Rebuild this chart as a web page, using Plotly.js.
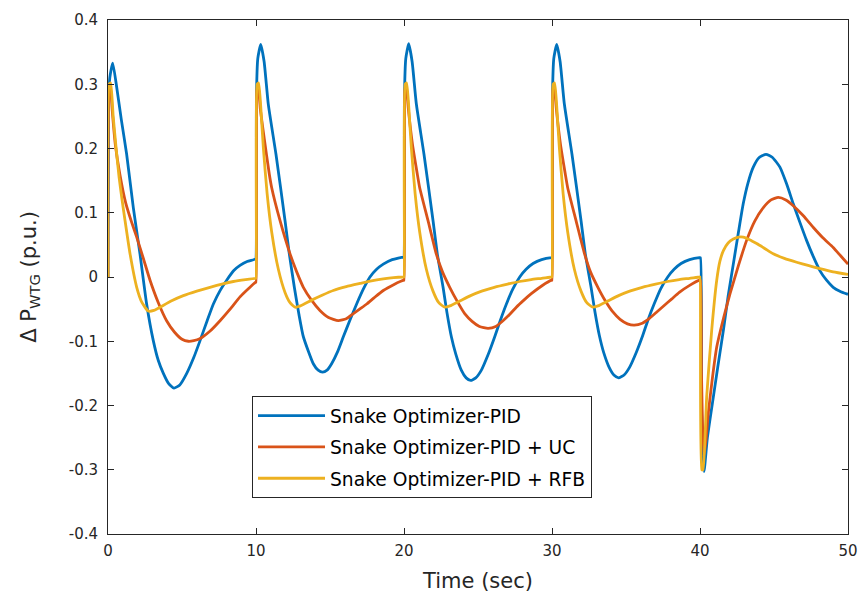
<!DOCTYPE html>
<html>
<head>
<meta charset="utf-8">
<script src="https://cdn.plot.ly/plotly-3.0.1.min.js"></script>
<style>html,body{margin:0;padding:0;background:#fff;}#chart{width:864px;height:596px;}</style>
</head>
<body>
<div id="chart"></div>
<script>
// Snake Optimizer-PID
const tPID = [0,0.03,0.12,0.32,0.59,0.9,1.26,1.71,2.16,2.61,3.06,3.4,3.74,4.1,4.46,4.85,5.32,5.8,6.22,6.7,7.12,7.6,8.02,8.5,8.92,9.4,9.97,
  10.0,10.03,10.12,10.32,10.55,10.83,11.35,11.96,12.25,12.59,12.9,13.2,13.87,14.2,14.5,14.8,15.11,15.5,15.9,16.35,16.8,17.25,17.7,18.15,18.6,19.2,19.97,
  20.0,20.03,20.12,20.32,20.55,20.83,21.35,21.96,22.25,22.64,22.9,23.2,23.5,23.87,24.2,24.5,24.85,25.23,25.7,26.13,26.5,26.92,27.35,27.82,28.25,28.72,29.3,29.97,
  30.0,30.03,30.12,30.32,30.55,30.83,31.35,31.96,32.25,32.64,32.9,33.2,33.5,33.87,34.2,34.5,34.85,35.23,35.7,36.13,36.5,36.92,37.35,37.82,38.25,38.72,39.3,39.97,
  40.03,40.1,40.27,40.5,40.9,41.2,41.58,41.9,42.25,42.6,42.92,43.25,43.6,44.0,44.46,44.9,45.4,45.85,46.3,46.75,47.2,47.65,48.1,48.55,49.0,49.45,50.0];
const vPID = [0,0.25,0.31,0.333,0.295,0.245,0.191,0.108,0.036,-0.042,-0.099,-0.13,-0.150,-0.166,-0.173,-0.168,-0.150,-0.125,-0.099,-0.068,-0.042,-0.020,-0.005,0.010,0.018,0.024,0.028,
  0.029,0.28,0.34,0.362,0.335,0.269,0.191,0.088,0.036,-0.016,-0.058,-0.093,-0.135,-0.145,-0.148,-0.145,-0.135,-0.117,-0.093,-0.067,-0.042,-0.019,0.000,0.012,0.020,0.027,0.031,
  0.030,0.28,0.34,0.363,0.335,0.27,0.191,0.088,0.036,-0.016,-0.055,-0.093,-0.12,-0.145,-0.157,-0.161,-0.157,-0.145,-0.12,-0.093,-0.068,-0.042,-0.019,0.000,0.012,0.021,0.027,0.030,
  0.030,0.28,0.34,0.362,0.335,0.27,0.191,0.088,0.036,-0.016,-0.054,-0.091,-0.118,-0.141,-0.153,-0.157,-0.153,-0.141,-0.117,-0.091,-0.066,-0.041,-0.018,0.000,0.012,0.021,0.027,0.030,
  0.030,-0.2,-0.303,-0.25,-0.187,-0.14,-0.083,-0.03,0.020,0.07,0.114,0.147,0.171,0.186,0.191,0.186,0.171,0.145,0.114,0.085,0.057,0.032,0.010,-0.005,-0.016,-0.022,-0.027];

// Snake Optimizer-PID + UC
const tUC = [0,0.06,0.15,0.3,0.5,0.8,1.2,1.6,1.94,2.4,2.84,3.4,3.96,4.5,5.0,5.43,5.8,6.2,6.9,7.57,8.25,8.92,9.5,9.98,
  10.0,10.06,10.15,10.3,10.56,10.9,11.06,11.62,12.3,12.75,13.2,13.75,14.32,14.9,15.56,16.1,16.58,17.0,17.48,18.0,18.6,19.3,19.98,
  20.0,20.06,20.15,20.3,20.58,20.9,21.06,21.62,22.18,22.6,23.09,23.6,24.1,24.6,25.1,25.68,26.2,26.69,27.15,27.59,28.1,28.6,29.3,29.98,
  30.0,30.06,30.15,30.3,30.58,30.9,31.06,31.62,32.2,32.6,33.1,33.6,34.1,34.6,35.1,35.56,36.1,36.6,37.1,37.6,38.1,38.6,39.3,39.98,
  40.03,40.1,40.25,40.4,40.56,40.85,41.13,41.6,42.03,42.6,43.15,43.7,44.28,44.8,45.29,45.8,46.3,47.0,47.66,48.3,49.0,49.5,50.0];
const vUC = [0,0.29,0.30,0.255,0.205,0.16,0.115,0.085,0.062,0.028,-0.005,-0.040,-0.068,-0.086,-0.097,-0.100,-0.099,-0.096,-0.084,-0.068,-0.050,-0.031,-0.018,-0.008,
  -0.008,0.29,0.30,0.26,0.215,0.16,0.139,0.088,0.036,0.008,-0.016,-0.036,-0.052,-0.063,-0.068,-0.065,-0.057,-0.050,-0.042,-0.032,-0.021,-0.012,-0.005,
  -0.005,0.29,0.30,0.26,0.205,0.16,0.139,0.088,0.036,0.008,-0.016,-0.038,-0.057,-0.069,-0.077,-0.080,-0.077,-0.068,-0.058,-0.047,-0.036,-0.026,-0.014,-0.005,
  -0.005,0.29,0.30,0.26,0.205,0.16,0.139,0.088,0.036,0.008,-0.016,-0.037,-0.054,-0.066,-0.073,-0.075,-0.072,-0.064,-0.054,-0.044,-0.034,-0.024,-0.013,-0.005,
  -0.005,-0.15,-0.28,-0.255,-0.212,-0.155,-0.109,-0.063,-0.026,0.018,0.057,0.087,0.108,0.120,0.124,0.120,0.111,0.095,0.077,0.061,0.046,0.033,0.020];

// Snake Optimizer-PID + RFB
const tRFB = [0,0.08,0.18,0.35,0.55,0.75,0.95,1.15,1.49,1.94,2.3,2.72,3.1,3.51,4.3,5.09,6.0,6.89,7.7,8.47,9.3,9.98,
  10.0,10.08,10.18,10.38,10.5,10.75,11.06,11.51,11.96,12.3,12.64,13.0,13.76,14.5,15.22,16.1,17.03,17.8,18.6,19.3,19.98,
  20.0,20.08,20.18,20.38,20.5,20.75,21.06,21.51,21.96,22.35,22.75,23.1,23.8,24.5,25.25,26.1,27.0,27.8,28.6,29.3,29.98,
  30.0,30.08,30.18,30.38,30.5,30.75,31.06,31.51,31.96,32.35,32.75,33.1,33.8,34.5,35.25,36.1,37.0,37.8,38.6,39.3,39.98,
  40.0,40.12,40.2,40.45,40.79,41.13,41.35,41.58,41.9,42.25,42.6,42.92,43.35,43.83,44.4,44.95,45.7,46.53,47.3,48.1,49.0,50.0];
const vRFB = [0,0.30,0.302,0.25,0.20,0.155,0.12,0.088,0.036,-0.016,-0.040,-0.053,-0.052,-0.047,-0.037,-0.029,-0.022,-0.016,-0.011,-0.007,-0.004,-0.002,
  -0.002,0.30,0.302,0.243,0.20,0.13,0.07,0.012,-0.024,-0.040,-0.047,-0.045,-0.036,-0.028,-0.021,-0.015,-0.010,-0.006,-0.003,-0.001,0.0,
  0.0,0.30,0.302,0.243,0.20,0.13,0.07,0.012,-0.022,-0.040,-0.047,-0.045,-0.037,-0.029,-0.022,-0.016,-0.011,-0.007,-0.004,-0.002,0.0,
  0.0,0.30,0.302,0.243,0.20,0.13,0.07,0.012,-0.022,-0.040,-0.047,-0.045,-0.037,-0.029,-0.022,-0.016,-0.011,-0.007,-0.004,-0.002,0.0,
  0.0,-0.30,-0.30,-0.187,-0.083,-0.005,0.025,0.041,0.053,0.059,0.062,0.062,0.058,0.052,0.044,0.036,0.029,0.023,0.018,0.013,0.008,0.004];

const seriesNames = ['Snake Optimizer-PID','Snake Optimizer-PID + UC','Snake Optimizer-PID + RFB'];
const seriesColors = ['#0072BD','#D95319','#EDB120'];
const xTicks = [0,10,20,30,40,50];
const xTickText = ['0','10','20','30','40','50'];
const yTicks = [-0.4,-0.3,-0.2,-0.1,0,0.1,0.2,0.3,0.4];
const yTickText = ['-0.4','-0.3','-0.2','-0.1','0','0.1','0.2','0.3','0.4'];

const xs = [tPID,tUC,tRFB];
const ys = [vPID,vUC,vRFB];
const traces = xs.map((x,i)=>({
  x:x, y:ys[i], type:'scatter', mode:'lines', name:seriesNames[i],
  legendgroup:'g'+i,
  line:{color:seriesColors[i], width:2.8, shape:'spline', smoothing:0.5}
}));

const font = 'DejaVu Sans, Verdana, sans-serif';
const axisColor = '#262626';
const layout = {
  width:864, height:596,
  margin:{l:108, r:16, t:20, b:62},
  paper_bgcolor:'#ffffff', plot_bgcolor:'#ffffff',
  font:{family:font, size:15, color:axisColor},
  showlegend:true,
  legend:{x:0.1946, y:0.2685, xanchor:'left', yanchor:'top',
    bgcolor:'#ffffff', bordercolor:axisColor, borderwidth:1,
    font:{family:font, size:18.7, color:'#000000'},
    traceorder:'grouped', tracegroupgap:4, itemwidth:67},
  xaxis:{range:[0,50], tickvals:xTicks, ticktext:xTickText,
    showline:true, linecolor:axisColor, linewidth:1, mirror:'allticks',
    ticks:'inside', ticklen:6, tickcolor:axisColor,
    showgrid:false, zeroline:false, ticklabelstandoff:3,
    tickfont:{family:font, size:15, color:axisColor},
    title:{text:'Time (sec)', font:{family:font, size:21, color:axisColor}, standoff:14}},
  yaxis:{range:[-0.4,0.4], tickvals:yTicks, ticktext:yTickText,
    showline:true, linecolor:axisColor, linewidth:1, mirror:'allticks',
    ticks:'inside', ticklen:6, tickcolor:axisColor,
    showgrid:false, zeroline:false, ticklabelstandoff:6,
    tickfont:{family:font, size:15, color:axisColor},
    title:{text:'Δ P<sub>WTG</sub> (p.u.)', font:{family:font, size:21, color:axisColor}, standoff:26}}
};
Plotly.newPlot('chart', traces, layout, {displayModeBar:false, staticPlot:true});
</script>
</body>
</html>
